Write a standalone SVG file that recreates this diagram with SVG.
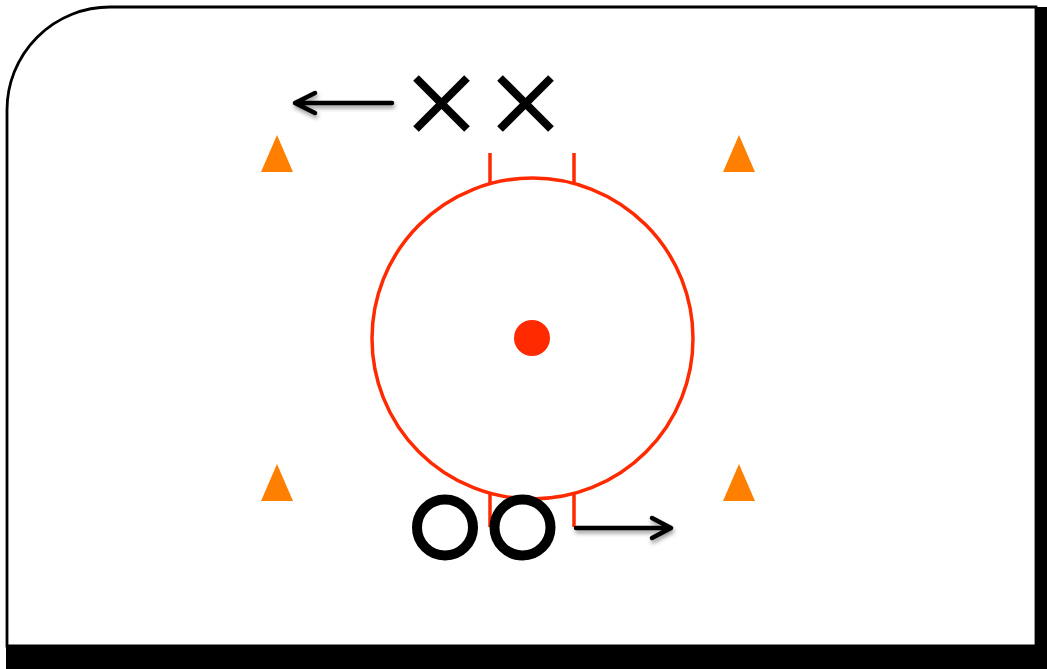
<svg xmlns="http://www.w3.org/2000/svg" width="1047" height="669" viewBox="0 0 1047 669">
<style>
.red{fill:none;stroke:#ff2a00;stroke-width:3.5}
.cone{fill:#ff7f00}
.blk{fill:none;stroke:#000;stroke-width:4.5;stroke-linecap:round;stroke-linejoin:round}
.x{stroke:#000;stroke-width:8;stroke-linecap:butt}
.o{fill:none;stroke:#000;stroke-width:10}
</style>
<defs>
<filter id="sh" x="-20%" y="-50%" width="140%" height="200%">
<feDropShadow dx="1" dy="3" stdDeviation="2" flood-color="#000" flood-opacity="0.4"/>
</filter>
</defs>
<g id="rink">
<rect x="1036" y="7" width="11" height="662" fill="#000"/>
<rect x="6" y="646" width="1041" height="23" fill="#000"/>
<path d="M7,110 A103,103 0 0 1 110,7 H1036 V646 H7 Z" fill="#fff" stroke="#000" stroke-width="2.8"/>
</g>
<g id="circle-zone">
<circle cx="532.5" cy="338.5" r="160.5" class="red"/>
<circle cx="532" cy="338" r="18" fill="#ff2a00"/>
<line x1="490" y1="153" x2="490" y2="184" class="red"/>
<line x1="574" y1="153" x2="574" y2="184" class="red"/>
<line x1="490" y1="493" x2="490" y2="527" class="red"/>
<line x1="574" y1="493" x2="574" y2="527" class="red"/>
</g>
<g id="cones">
<polygon points="277,135 261,172 293,172" class="cone"/>
<polygon points="739,135 723,172 755,172" class="cone"/>
<polygon points="277,464 261,501 293,501" class="cone"/>
<polygon points="739,464 723,501 755,501" class="cone"/>
</g>
<g id="player-x1">
<line x1="416" y1="78" x2="467" y2="129" class="x"/>
<line x1="467" y1="78" x2="416" y2="129" class="x"/>
</g>
<g id="player-x2">
<line x1="500" y1="78" x2="551" y2="129" class="x"/>
<line x1="551" y1="78" x2="500" y2="129" class="x"/>
</g>
<g id="player-o1">
<circle cx="445" cy="527.5" r="28" class="o"/>
</g>
<g id="player-o2">
<circle cx="522.5" cy="527.5" r="28" class="o"/>
</g>
<g id="connectors" filter="url(#sh)">
<path d="M392,103 H295 M315,93 L295,103 L315,113" class="blk"/>
<path d="M576,528 H671 M652,518 L671,528 L652,538" class="blk"/>
</g>
</svg>
